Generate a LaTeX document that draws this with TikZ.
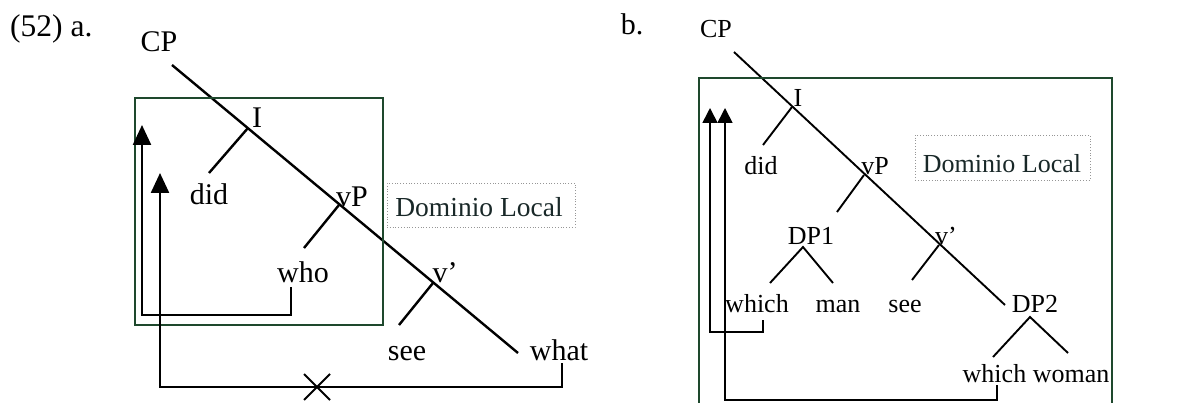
\documentclass[tikz,border=0pt]{standalone}
\usepackage{fontspec}
\setmainfont{Liberation Serif}
\usetikzlibrary{arrows.meta,calc}
\definecolor{boxgreen}{RGB}{30,72,45}
\definecolor{dotgray}{RGB}{150,150,150}
\definecolor{domtext}{RGB}{25,40,40}
\begin{document}
\begin{tikzpicture}[x=1pt,y=-1pt,
  lblA/.style={anchor=base,inner sep=0pt,font=\fontsize{30}{36}\selectfont},
  lblB/.style={anchor=base,inner sep=0pt,font=\fontsize{26}{31}\selectfont},
  treeA/.style={line width=2.4pt},
  treeB/.style={line width=1.9pt},
  movA/.style={line width=2.4pt},
  movB/.style={line width=1.6pt},
  headA/.style={-{Triangle[width=18pt,length=20pt]}},
  headB/.style={-{Triangle[width=15pt,length=15pt]}},
  localbox/.style={draw=boxgreen,line width=2pt},
  dombox/.style={draw=dotgray,dotted,line width=0.8pt,inner sep=0pt,text=domtext}]
\useasboundingbox (0,0) rectangle (1185,403);

% ---------------- panel a ----------------
\node[lblA,anchor=base west,font=\fontsize{31.5}{38}\selectfont] (numa) at (10,37) {(52) a.};
\node[lblA] (cpA) at (159,52) {CP};
\coordinate (topA) at (172,65);
\coordinate (iA) at (248,128);
\coordinate (vpA) at (339,205);
\coordinate (vbA) at (433,283);
\coordinate (endA) at (518,353);
\node[lblA] (IA) at (257,128) {I};
\node[lblA] (didA) at (209,205) {did};
\node[lblA] (vPA) at (352,207) {vP};
\node[lblA] (whoA) at (303,283) {who};
\node[lblA] (vprA) at (445,283) {v’};
\node[lblA] (seeA) at (407,360) {see};
\node[lblA] (whatA) at (559,360) {what};
\draw[treeA] (topA) -- (endA);
\draw[treeA] (iA) -- (209,173);
\draw[treeA] (vpA) -- (304,248);
\draw[treeA] (vbA) -- (399,325);
\draw[localbox] (135,98) rectangle (383,325);
\node[dombox,minimum width=188pt,minimum height=44pt] (domA) at (481,205) {};
\node[anchor=base,inner sep=0pt,font=\fontsize{27.5}{33}\selectfont,text=domtext] (domAt) at (479,217) {Dominio Local};
% movement arrows
\coordinate (whoLow) at (291,287);
\coordinate (whatLow) at (562,363);
\draw[movA,headA] (whoLow) -- (291,315) -- (142,315) -- (142,125);
\draw[movA,headA] (whatLow) -- (562,387) -- (160,387) -- (160,173);
\coordinate (xA) at (317,387);
\draw[line width=1.8pt] ($(xA)+(-13,-13)$) -- ($(xA)+(13,13)$);
\draw[line width=1.8pt] ($(xA)+(-13,13)$) -- ($(xA)+(13,-13)$);

% ---------------- panel b ----------------
\node[lblA] (labb) at (632,35) {b.};
\node[lblB] (cpB) at (716,38) {CP};
\coordinate (topB) at (734,52);
\coordinate (iB) at (792,107);
\coordinate (vpB) at (864,175);
\coordinate (vbB) at (939,245);
\coordinate (endB) at (1005,305);
\node[lblB] (IB) at (798,107) {I};
\node[lblB] (didB) at (761,175) {did};
\node[lblB] (vPB) at (875,175) {vP};
\node[lblB] (dp1B) at (811,245) {DP1};
\node[lblB] (vprB) at (946,245) {v’};
\node[lblB] (whichB) at (757,312) {which};
\node[lblB] (manB) at (838,312) {man};
\node[lblB] (seeB) at (905,312) {see};
\node[lblB] (dp2B) at (1035,312) {DP2};
\node[lblB] (wwB) at (1036,382) {which woman};
\draw[treeB] (topB) -- (endB);
\draw[treeB] (iB) -- (763,145);
\draw[treeB] (vpB) -- (837,212);
\draw[treeB] (vbB) -- (912,280);
\coordinate (dp1apex) at (803,247);
\draw[treeB] (770,283) -- (dp1apex) -- (833,283);
\coordinate (dp2apex) at (1030,317);
\draw[treeB] (993,357) -- (dp2apex) -- (1068,353);
\draw[localbox] (699,403) -- (699,78) -- (1112,78) -- (1112,403);
\node[dombox,minimum width=175pt,minimum height=45pt] (domB) at (1002.5,157.5) {};
\node[lblB,text=domtext] (domBt) at (1002,173) {Dominio Local};
% movement arrows
\coordinate (whichLow) at (763,320);
\coordinate (wwLow) at (997,385);
\draw[movB,headB] (whichLow) -- (763,332) -- (710,332) -- (710,108);
\draw[movB,headB] (wwLow) -- (997,400) -- (725,400) -- (725,108);
\end{tikzpicture}
\end{document}
